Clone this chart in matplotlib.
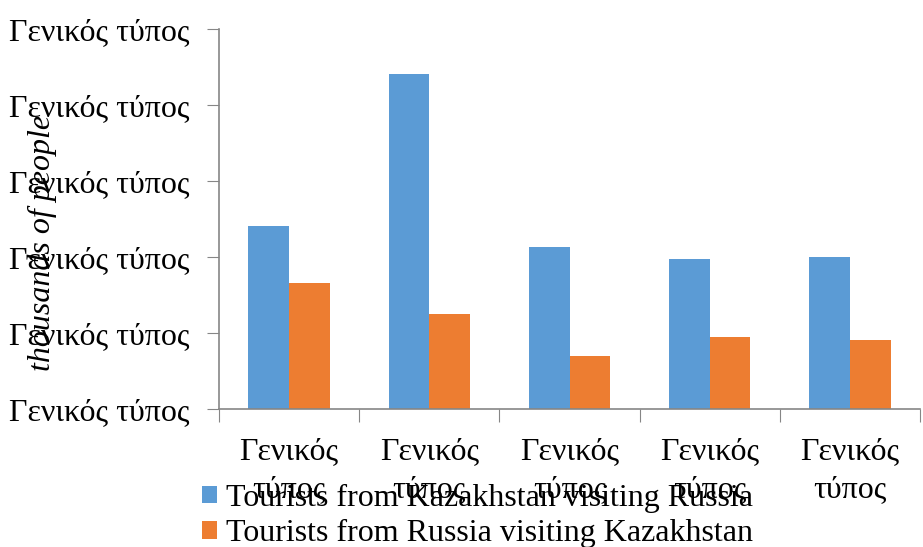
import numpy as np
import matplotlib.pyplot as plt

# Data (thousands of people)
categories = ["Γενικός\nτύπος"] * 5
kaz_to_rus = [1203, 2204, 1065, 986, 999]
rus_to_kaz = [828, 624, 348, 475, 454]
series_names = ["Tourists from Kazakhstan visiting Russia",
                "Tourists from Russia visiting Kazakhstan"]
y_ticks = [0, 500, 1000, 1500, 2000, 2500]
y_tick_label = "Γενικός τύπος"

blue = "#5B9BD5"
orange = "#ED7D31"
axis_grey = "#868686"
fs = 23

plt.rcParams['font.family'] = ['Liberation Serif', 'DejaVu Serif']

fig = plt.figure(figsize=(9.23, 5.47), dpi=100)
ax = fig.add_axes([219 / 923, 1 - 409.3 / 547, 701 / 923, 380.3 / 547])

x = np.arange(len(categories)) + 0.5
w = 0.29
b1 = ax.bar(x - w / 2, kaz_to_rus, width=w, color=blue, label=series_names[0])
b2 = ax.bar(x + w / 2, rus_to_kaz, width=w, color=orange, label=series_names[1])

ax.set_xlim(0, len(categories))
ax.set_ylim(0, 2500)

# y axis
ax.set_yticks(y_ticks)
ax.set_yticklabels([y_tick_label] * len(y_ticks), fontsize=fs)
ax.tick_params(axis='y', direction='out', length=9, color=axis_grey, pad=12)

# x axis: boundary ticks without labels, labels at category centres
ax.set_xticks(np.arange(len(categories) + 1))
ax.set_xticklabels([])
ax.tick_params(axis='x', which='major', direction='out', length=9, color=axis_grey)
ax.set_xticks(x, minor=True)
ax.set_xticklabels(categories, minor=True, fontsize=fs, linespacing=1.42)
ax.tick_params(axis='x', which='minor', length=0, pad=20)

for side in ['top', 'right']:
    ax.spines[side].set_visible(False)
for side in ['left', 'bottom']:
    ax.spines[side].set_color(axis_grey)
    ax.spines[side].set_linewidth(1.2)

ax.set_ylabel("thousands of people", fontsize=fs, style='italic')
ax.yaxis.set_label_coords(-0.231, 0.4386)

# legend sits below the axis, overlapping the category labels as in the original
fig.legend(handles=[b1, b2], loc='upper left', bbox_to_anchor=(202 / 923, 1 - 484 / 547),
           frameon=False, fontsize=fs, handlelength=0.47, handleheight=0.47,
           handletextpad=0.28, labelspacing=0.2, borderpad=0, borderaxespad=0)

plt.savefig("out.png", dpi=100)
